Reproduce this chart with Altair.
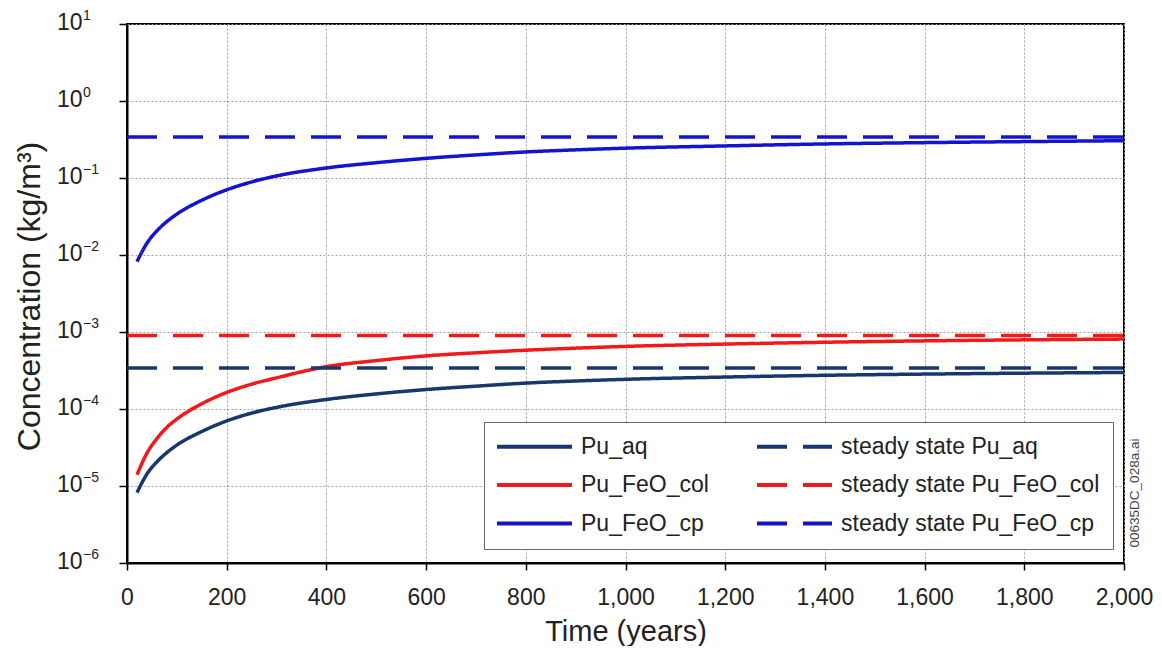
import altair as alt
import pandas as pd

# ---- data ----
years = [20, 40, 60, 80, 100, 150, 200, 250, 300, 400, 500, 600, 700, 800, 900,
         1000, 1200, 1400, 1600, 1800, 2000]
pu_aq = [8.2e-6, 1.43e-5, 2.06e-5, 2.72e-5, 3.4e-5, 5.1e-5, 7.0e-5, 8.85e-5, 1.05e-4,
         1.33e-4, 1.57e-4, 1.79e-4, 1.98e-4, 2.17e-4, 2.31e-4, 2.43e-4, 2.6e-4,
         2.74e-4, 2.84e-4, 2.92e-4, 2.98e-4]
pu_feo_col = [1.4e-5, 2.67e-5, 4.13e-5, 5.77e-5, 7.4e-5, 1.17e-4, 1.64e-4, 2.1e-4,
              2.54e-4, 3.55e-4, 4.25e-4, 4.9e-4, 5.37e-4, 5.8e-4, 6.17e-4, 6.5e-4,
              6.97e-4, 7.36e-4, 7.67e-4, 7.91e-4, 8.09e-4]
pu_feo_cp = [8.2e-3, 1.426e-2, 2.06e-2, 2.72e-2, 3.4e-2, 5.14e-2, 7.02e-2, 8.89e-2,
             0.1064, 0.135, 0.158, 0.180, 0.1995, 0.218, 0.232, 0.244, 0.261,
             0.277, 0.288, 0.297, 0.305]
ss_years = [0, 2000]
ss_pu_aq = 3.4e-4
ss_pu_feo_col = 9.0e-4
ss_pu_feo_cp = 0.34

# legend fills column by column: solid series first, then steady-state ones
series_order = ["Pu_aq", "Pu_FeO_col", "Pu_FeO_cp",
                "steady state Pu_aq", "steady state Pu_FeO_col", "steady state Pu_FeO_cp"]
series_colors = ["#16386c", "#f01a1a", "#1414d0", "#16386c", "#f01a1a", "#1414d0"]
series_dash = [[1, 0], [1, 0], [1, 0], [30, 16], [30, 16], [30, 16]]

y_ticks = [1e1, 1e0, 1e-1, 1e-2, 1e-3, 1e-4, 1e-5, 1e-6]
y_exps = ["1", "0", "\u22121", "\u22122", "\u22123", "\u22124", "\u22125", "\u22126"]
x_ticks = list(range(0, 2001, 200))

FONT = "Liberation Sans"
TXT = "#222222"

rows = []
for name, vals in [("Pu_aq", pu_aq), ("Pu_FeO_col", pu_feo_col), ("Pu_FeO_cp", pu_feo_cp)]:
    for t, v in zip(years, vals):
        rows.append({"t": t, "value": v, "series": name})
for name, v in [("steady state Pu_aq", ss_pu_aq),
                ("steady state Pu_FeO_col", ss_pu_feo_col),
                ("steady state Pu_FeO_cp", ss_pu_feo_cp)]:
    for t in ss_years:
        rows.append({"t": t, "value": v, "series": name})
df = pd.DataFrame(rows)

yscale = alt.Scale(type="log", domain=[1e-6, 10])
xscale = alt.Scale(domain=[0, 2000], nice=False)

y_axis = alt.Axis(values=y_ticks, labels=False, tickSize=8, tickColor="black",
                  tickWidth=1.5, domainColor="black", domainWidth=2,
                  grid=True, gridDash=[2, 2], gridColor="#a0a0a0",
                  title="Concentration (kg/m\u00b3)", titleFontSize=32,
                  titleFont=FONT, titleFontWeight="normal", titleColor=TXT,
                  titleX=-98, titleY=272, titleAngle=270,
                  titleAlign="center", titleBaseline="middle")

lines = alt.Chart(df).mark_line(strokeWidth=3.5, clip=True, interpolate="monotone").encode(
    x=alt.X("t:Q", scale=xscale,
            axis=alt.Axis(values=x_ticks, format=",d", title="Time (years)",
                          labelFontSize=23, labelFont=FONT, labelColor=TXT,
                          labelPadding=16, tickSize=7, tickColor="black", tickWidth=1.5,
                          domainColor="black", domainWidth=2, labelFlush=False,
                          grid=True, gridDash=[2, 2], gridColor="#a0a0a0",
                          titleFontSize=29, titleFont=FONT, titleFontWeight="normal",
                          titleColor=TXT, titlePadding=8)),
    y=alt.Y("value:Q", scale=yscale, axis=y_axis),
    color=alt.Color("series:N", sort=series_order,
                    scale=alt.Scale(domain=series_order, range=series_colors),
                    legend=alt.Legend(title=None, orient="none", legendX=357, legendY=398,
                                      columns=2, columnPadding=40, rowPadding=14.5,
                                      symbolType="M-7.5,0H7.5", symbolSize=100,
                                      symbolStrokeWidth=4, labelFontSize=23,
                                      labelFont=FONT, labelColor=TXT, labelOffset=35,
                                      labelLimit=500, padding=13, strokeColor="#666",
                                      fillColor="white", symbolOffset=26)),
    strokeDash=alt.StrokeDash("series:N", sort=series_order,
                              scale=alt.Scale(domain=series_order, range=series_dash)),
    detail="series:N",
)

lab_df = pd.DataFrame({"value": y_ticks, "exp": y_exps})
base_lbl = alt.Chart(lab_df).mark_text(align="left", baseline="middle", fontSize=23,
                                        font=FONT, color=TXT, dy=-1).encode(
    x=alt.value(-70),
    y=alt.Y("value:Q", scale=yscale, axis=y_axis),
    text=alt.value("10"),
)
exp_lbl = alt.Chart(lab_df).mark_text(align="left", baseline="middle", fontSize=14,
                                       font=FONT, color=TXT, dy=-8).encode(
    x=alt.value(-44),
    y=alt.Y("value:Q", scale=yscale, axis=y_axis),
    text="exp:N",
)

wm = alt.Chart(pd.DataFrame({"s": ["00635DC_028a.ai"]})).mark_text(
    angle=270, fontSize=13.5, font=FONT, color="#444", align="center", baseline="middle"
).encode(x=alt.value(1008), y=alt.value(469), text="s:N")

chart = alt.layer(lines, base_lbl, exp_lbl, wm).properties(
    width=997, height=539, background="white",
    autosize=alt.AutoSizeParams(type="none"),
    padding={"left": 119, "top": 16, "right": 30, "bottom": 83},
).configure_view(stroke="black", strokeWidth=2)

chart.save("out.html", embed_options={"renderer": "svg", "actions": False})
